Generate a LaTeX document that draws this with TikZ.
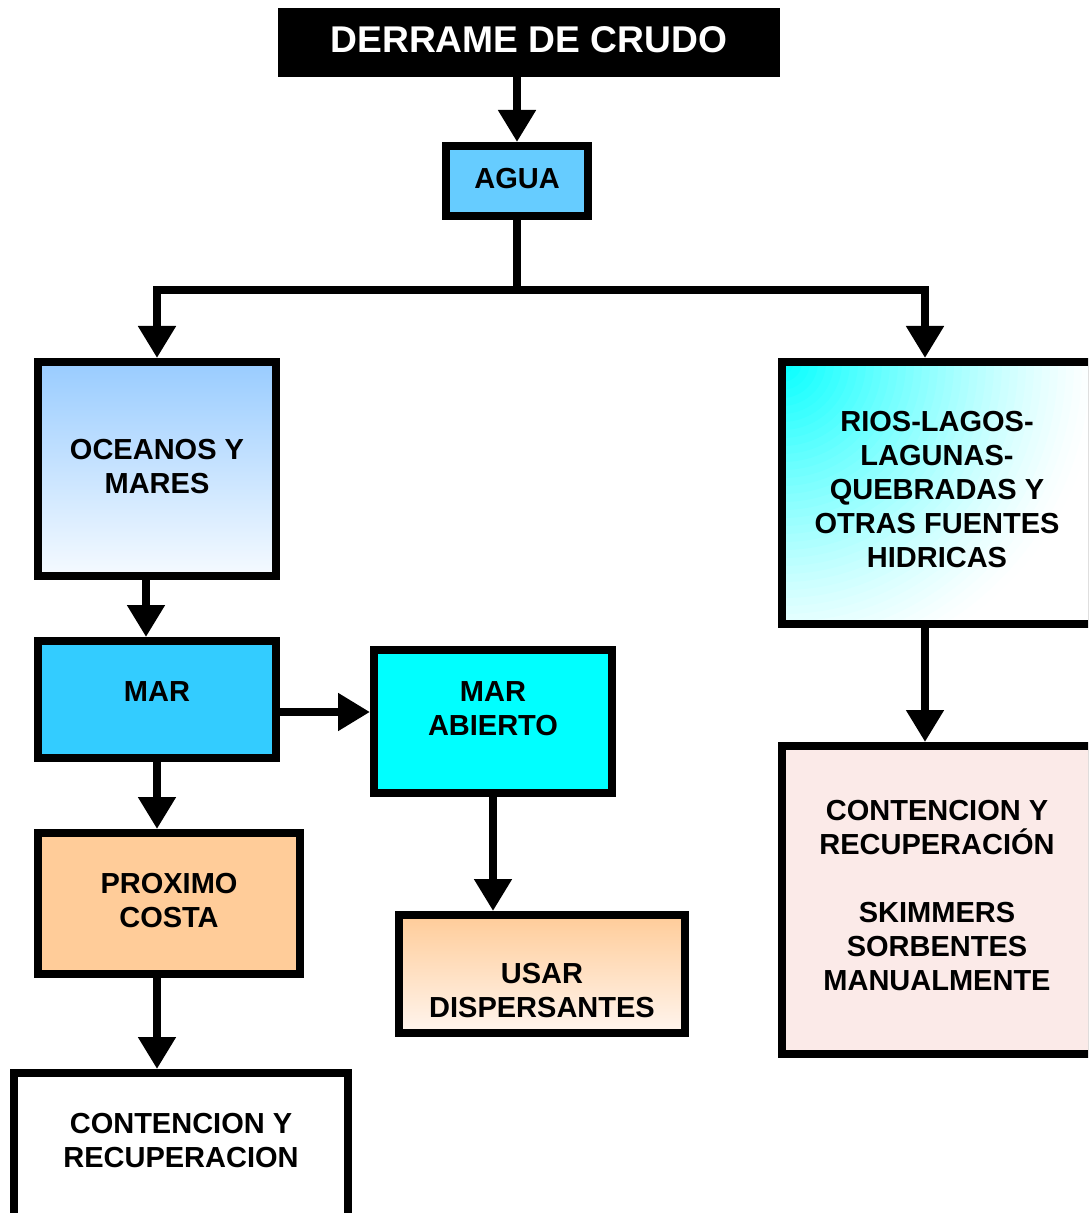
\documentclass[tikz,border=0pt]{standalone}
\usepackage{fontspec}
\setmainfont{Liberation Sans}
\usetikzlibrary{arrows.meta,positioning,shadings}

\definecolor{aguablue}{HTML}{66CCFF}
\definecolor{marblue}{HTML}{33CCFF}
\definecolor{aquacyan}{HTML}{00FFFF}
\definecolor{oceantop}{HTML}{99CCFF}
\definecolor{oceanbot}{HTML}{F5FAFF}
\definecolor{peach}{HTML}{FFCC99}
\definecolor{peachlight}{HTML}{FFF5EE}
\definecolor{rosa}{HTML}{FBEAE8}

\begin{document}
\begin{tikzpicture}[
  x=0.5pt, y=-0.5pt,
  font=\fontsize{14.5}{17}\selectfont\bfseries,
  lift/.style={execute at end node={\rule[-#1]{0pt}{#1}}},
  lift/.default=3pt,
  box/.style={draw, line width=4pt, align=center, inner sep=0pt},
  titlebox/.style={fill=black, text=white, inner sep=0pt, font=\fontsize{18.6}{21}\selectfont\bfseries},
  % brillo cian desde la esquina superior izquierda
  glow/.style={fill=white, path picture={
    \foreach \r in {324,316,...,4}{
      \pgfmathsetmacro\pct{100*max(0.0001,1-\r/320)^1.3}
      \fill[aquacyan!\pct!white] (path picture bounding box.north west) circle (\r);
    }}},
  link/.style={line width=4pt},
  arrow/.style={link, -{Triangle[length=16pt,width=18pt]}}
]
\useasboundingbox (0,0) rectangle (1088,1213);
\clip (0,0) rectangle (1088,1213);

\node[titlebox, lift, minimum width=251pt, minimum height=34.5pt] (derrame) at (529,42.5) {DERRAME DE CRUDO};
\node[box, lift, fill=aguablue, minimum width=71pt, minimum height=35pt] (agua) at (517,181) {AGUA};
\node[box, lift, top color=oceantop, bottom color=oceanbot, minimum width=119pt, minimum height=107pt] (oceanos) at (157,469) {OCEANOS Y\\MARES};
\node[box, lift=4pt, glow, minimum width=155pt, minimum height=131pt] (rios) at (937,493) {RIOS-LAGOS-\\LAGUNAS-\\QUEBRADAS Y\\OTRAS FUENTES\\HIDRICAS};
\node[box, lift=7.5pt, fill=marblue, minimum width=119pt, minimum height=58.5pt] (mar) at (157,699.5) {MAR};
\node[box, lift=13pt, fill=aquacyan, minimum width=119pt, minimum height=71.5pt] (abierto) at (493,721.5) {MAR\\ABIERTO};
\node[box, lift, fill=peach, minimum width=131pt, minimum height=70.5pt] (proximo) at (169,903.5) {PROXIMO\\COSTA};
\node[box, lift, top color=peach, bottom color=peachlight, minimum width=143pt, minimum height=59pt] (usar) at (542,974) {\rule{0pt}{29.4pt}USAR\\DISPERSANTES};
\node[box, lift=8pt, fill=white, minimum width=167pt, minimum height=75pt] (contcosta) at (181,1148) {CONTENCION Y\\RECUPERACION};
\node[box, lift=5pt, fill=rosa, minimum width=155pt, minimum height=154pt] (contrios) at (937,900) {CONTENCION Y\\RECUPERACIÓN\\[17pt]SKIMMERS\\SORBENTES\\MANUALMENTE};

% conectores
\coordinate (split) at (517,290);
\draw[arrow] (derrame.south -| agua.north) -- (agua);
\draw[link] (agua) -- (split);
\draw[arrow] (split) -| (oceanos);
\draw[arrow] (split) -| ([xshift=-6pt]rios.north);
\draw[arrow] ([xshift=-5.5pt]oceanos.south) -- ([xshift=-5.5pt]oceanos.south |- mar.north);
\draw[arrow] ([yshift=-6.25pt]mar.east) -- ([yshift=-6.25pt]mar.east -| abierto.west);
\draw[arrow] (mar) -- (mar |- proximo.north);
\draw[arrow] (abierto) -- (abierto |- usar.north);
\draw[arrow] ([xshift=-6pt]proximo.south) -- ([xshift=-6pt]proximo.south |- contcosta.north);
\draw[arrow] ([xshift=-6pt]rios.south) -- ([xshift=-6pt]rios.south |- contrios.north);
\end{tikzpicture}
\end{document}
